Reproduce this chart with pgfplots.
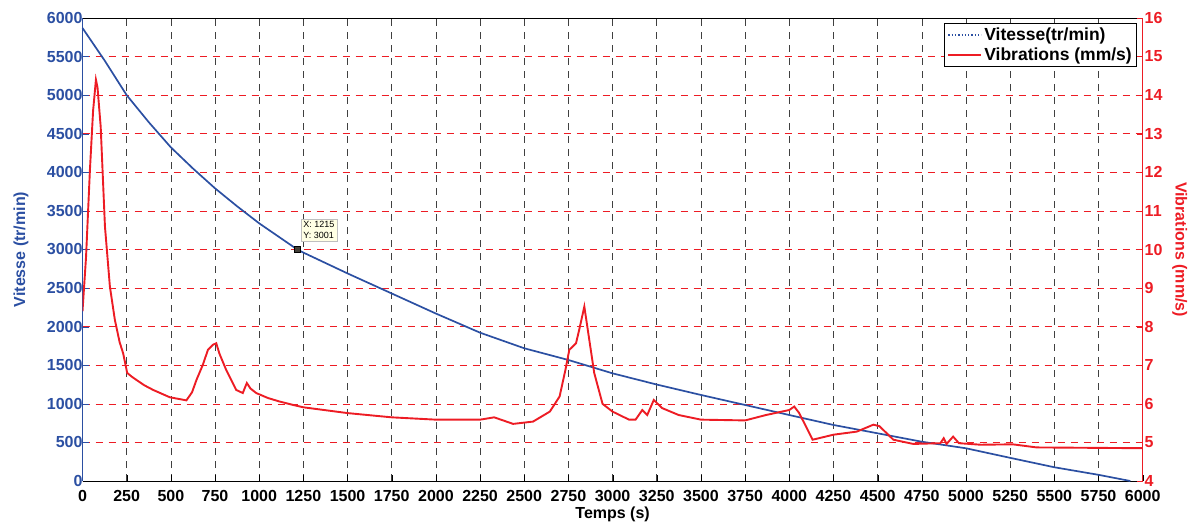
\documentclass[border=0pt]{standalone}
\usepackage{pgfplots}
\pgfplotsset{compat=1.18}
\usepackage{fontspec}
\setmainfont{Liberation Sans}
\definecolor{vblue}{RGB}{43,79,162}
\definecolor{vred}{RGB}{237,28,36}
\definecolor{tipbg}{RGB}{255,255,228}
\begin{document}
\begin{tikzpicture}
\pgfplotsset{
  every axis/.append style={
    scale only axis, width=1060.2pt, height=463pt,
    xmin=0, xmax=6000,
    /pgf/number format/assume math mode=true,
    tick label style={font=\bfseries\fontsize{16}{18}\selectfont},
    label style={font=\bfseries\fontsize{16}{18}\selectfont},
  }
}
\begin{axis}[
  name=ax,
  ymin=0, ymax=6000,
  axis y line*=left,
  axis x line*=bottom,
  xtick={0,250,...,6000},
  ytick={0,500,...,6000},
  /pgf/number format/.cd, set thousands separator={}, fixed, precision=0,
  /pgfplots/.cd,
  yticklabel style={text=vblue, xshift=3.5pt},
  xticklabel style={text=black, yshift=-6pt},
  y axis line style={vblue, line width=0.8pt},
  x axis line style={black, line width=0.8pt},
  ytick style={vblue},
  xtick style={black},
  tick align=inside,
  major tick length=6pt,
  xmajorgrids, ymajorgrids,
  x grid style={black!75, dashed, dash pattern=on 7pt off 6pt, line width=0.6pt},
  y grid style={vred, dashed, dash pattern=on 7pt off 6pt, line width=0.6pt},
  ylabel={Vitesse (tr/min)},
  ylabel style={text=vblue, at={(axis description cs:-0.058,0.5)}, anchor=center},
  xlabel={Temps (s)},
  xlabel style={at={(axis description cs:0.5,-0.072)}, anchor=center},
  clip=false,
]
\addplot[vblue, line width=1.7pt] coordinates {
(0,5870) (125,5450) (250,5000) (375,4650) (500,4324) (625,4050) (750,3793)
(875,3560) (1000,3339) (1215,3001) (1250,2960) (1500,2690) (1750,2430)
(2000,2170) (2250,1922) (2500,1720) (2750,1568) (3000,1395) (3250,1250)
(3500,1115) (3750,985) (4000,855) (4250,726) (4500,618) (4750,509)
(5000,424) (5250,300) (5500,178) (5750,80) (5930,0)
};
\addplot[only marks, mark=square*, mark size=3.2pt, black, mark options={fill=black!85!yellow}] coordinates {(1215,3001)};
\node[anchor=south west, fill=tipbg, draw=black!25, inner sep=2.5pt, align=left,
      font=\fontsize{9}{11}\selectfont] at (axis cs:1235,3101) {X: 1215\\Y: 3001};
\draw[black, line width=0.8pt] (rel axis cs:0,1) -- (rel axis cs:1,1);
\end{axis}
\begin{axis}[
  ymin=4, ymax=16,
  axis y line*=right,
  axis x line=none,
  ytick={4,5,...,16},
  yticklabel style={text=vred, xshift=-1.5pt},
  y axis line style={vred, line width=0.8pt},
  ytick style={vred},
  tick align=inside,
  major tick length=6pt,
  ylabel={Vibrations (mm/s)},
  ylabel style={text=vred, at={(axis description cs:1.035,0.5)}, anchor=center, rotate=180},
  legend style={at={(0.9948,0.99)}, anchor=north east, draw=black, fill=white,
    font=\bfseries\fontsize{17.5}{21}\selectfont, inner xsep=3pt, inner ysep=3pt,
    row sep=1.5pt, line width=0.8pt},
  legend cell align=left,
  legend image code/.code={\draw[#1] (0pt,0pt) -- (33pt,0pt);},
]
\addlegendimage{vblue, line width=1.3pt, dotted}
\addlegendentry{Vitesse(tr/min)}
\addplot[vred, line width=1.9pt] coordinates {
(0,8.4) (20,9.8) (42,12.06) (60,13.6) (76,14.4) (85,14.2) (103,13.18)
(127,10.6) (155,9.04) (183,8.18) (210,7.6) (230,7.31) (253,6.8) (280,6.7) (305,6.62)
(350,6.48) (400,6.36) (494,6.17) (588,6.09) (620,6.3) (645,6.62) (680,7.0) (710,7.4)
(738,7.53) (757,7.57) (775,7.3) (813,6.88) (870,6.36) (907,6.28) (930,6.54)
(950,6.4) (983,6.28) (1050,6.15) (1115,6.06) (1193,5.97) (1250,5.91) (1500,5.76)
(1750,5.65) (2000,5.59) (2250,5.59) (2330,5.65) (2437,5.48) (2550,5.54)
(2645,5.8) (2700,6.19) (2733,6.88) (2755,7.4) (2793,7.57) (2811,7.92)
(2840,8.52) (2868,7.66) (2896,6.8) (2943,6.0) (2999,5.8) (3093,5.59)
(3130,5.59) (3168,5.84) (3196,5.71) (3233,6.1) (3280,5.89) (3374,5.71)
(3500,5.59) (3750,5.57) (3868,5.71) (4000,5.84) (4028,5.93) (4056,5.76)
(4132,5.07) (4250,5.2) (4382,5.28) (4476,5.46) (4510,5.42) (4589,5.07)
(4702,4.96) (4855,4.98) (4874,5.11) (4890,4.96) (4927,5.15) (4960,4.98)
(5083,4.94) (5265,4.95) (5400,4.87) (6000,4.85)
};
\addlegendentry{Vibrations (mm/s)}
\end{axis}
\path ([xshift=-82.5pt,yshift=-41pt]ax.south west) rectangle ([xshift=49.3pt,yshift=18pt]ax.north east);
\end{tikzpicture}
\end{document}
